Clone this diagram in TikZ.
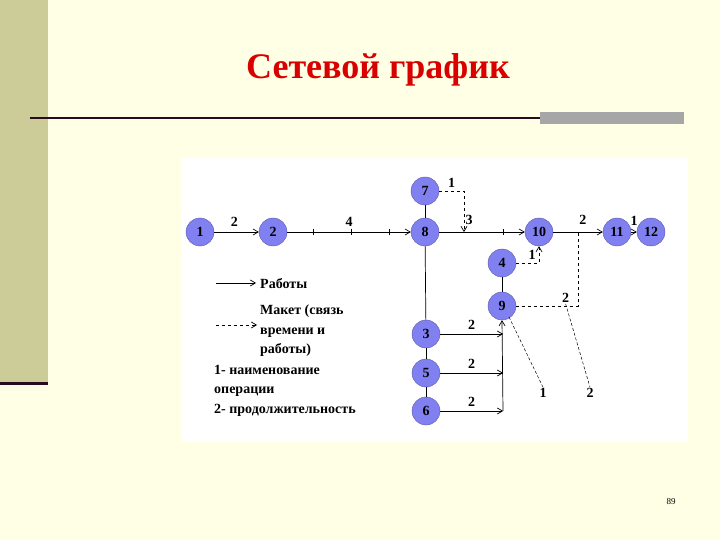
\documentclass[tikz,border=0pt]{standalone}
\usepackage{fontspec}
\setmainfont{Liberation Serif}
\usetikzlibrary{arrows.meta}
\definecolor{bg}{HTML}{FFFFE5}
\definecolor{bar}{HTML}{CCCC99}
\definecolor{dk}{HTML}{2A0A1E}
\definecolor{nd}{HTML}{8080F0}
\tikzset{
 ev/.style={circle,fill=nd,draw=nd!70!black,line width=0.4pt,minimum size=28pt,inner sep=0pt,font=\bfseries\fontsize{14}{14}\selectfont},
 wk/.style={line width=0.7pt,-{Straight Barb[length=5pt,width=6pt]}},
 dl/.style={wk,dashed},
 pl/.style={line width=0.7pt},
 lb/.style={font=\bfseries\fontsize{14}{14}\selectfont,inner sep=1pt},
 lg/.style={font=\bfseries\fontsize{14}{19.5}\selectfont,align=left,anchor=west,inner sep=0pt}
}
\begin{document}
\begin{tikzpicture}[x=1pt,y=-1pt]
\useasboundingbox (0,0) rectangle (720,540);
\fill[bg] (0,0) rectangle (720,540);
\fill[bar] (0,0) rectangle (48,382);
\fill[dk] (0,382) rectangle (48,385);
\fill[dk] (30,117) rectangle (540,119);
\fill[black!35] (540,112) rectangle (684,124);
\node[text=red!85!black,font=\bfseries\fontsize{36}{36}\selectfont] (title) at (378,70) {Сетевой график};
\node[font=\fontsize{9}{9}\selectfont] (pg) at (671,502) {89};
\fill[white] (181,158) rectangle (688,442);
\node[ev] (n1) at (200,232) {1};
\node[ev] (n2) at (273,232) {2};
\node[ev] (n8) at (425,232) {8};
\node[ev] (n7) at (425,191) {7};
\node[ev] (n10) at (539,232) {10};
\node[ev] (n11) at (617,232) {11};
\node[ev] (n12) at (651,232) {12};
\node[ev] (n4) at (502,263) {4};
\node[ev] (n9) at (502,306) {9};
\node[ev] (n3) at (426,334) {3};
\node[ev] (n5) at (426,373) {5};
\node[ev] (n6) at (426,411) {6};
% works
\draw[wk] (n1) -- node[lb,above=4pt,pos=0.45]{2} (n2);
\draw[wk] (n2) -- node[lb,above=4pt]{4} (n8);
\draw[wk] (n8) -- node[lb,above=6pt,pos=0.35]{3} (n10);
\draw[wk] (n10) -- node[lb,above=6pt,pos=0.6]{2} (n11);
\draw[wk] (n11) -- node[lb,above=5pt]{1} (n12);
\foreach \x in {313,351,389,503} \draw[pl] (\x,229) -- (\x,235);
\draw[pl] (n8) -- (n3);
\draw[pl] (n7) -- (n8);
\draw[pl] (n3) -- (n5);
\draw[pl] (n5) -- (n6);
\draw[pl] (n4) -- (n9);
\coordinate (a3) at (503,334);
\coordinate (a5) at (503,373);
\coordinate (a6) at (503,411);
\draw[wk] (n3) -- node[lb,above=3pt,pos=0.5]{2} (a3);
\draw[wk] (n5) -- node[lb,above=3pt,pos=0.5]{2} (a5);
\draw[wk] (n6) -- node[lb,above=3pt,pos=0.5]{2} (a6);
\draw[wk] (a6) -- (n9.south);
% dashed
\coordinate (d7) at (464,232);
\draw[dl] (n7.east) -| node[lb,above=2pt,pos=0.25]{1} (d7);
\draw[dl] (n4.east) -| node[lb,above=2pt,pos=0.35]{1} (n10.south);
\coordinate (d9) at (578,232);
\draw[pl,dashed] (n9.east) -| node[lb,above=2pt,pos=0.4](t2){2} (d9);
% callouts
\node[lb] (c1) at (543,393) {1};
\node[lb] (c2) at (590,393) {2};
\draw[pl,dash pattern=on 3pt off 2pt,line width=0.5pt] (509,317) -- (c1.north);
\draw[pl,dash pattern=on 3pt off 2pt,line width=0.5pt] (t2.south) -- (c2.north);
% legend
\coordinate (l1a) at (216,283); \coordinate (l1b) at (256,283);
\draw[wk] (l1a) -- (l1b);
\node[lg] (lw) at (260,284) {Работы};
\coordinate (l2a) at (216,325); \coordinate (l2b) at (257,325);
\draw[dl] (l2a) -- (l2b);
\node[lg,anchor=north west] (lm) at (260,305) {Макет (связь\\времени и\\работы)};
\node[lg,anchor=north west] (ln) at (214,365) {1- наименование\\операции\\2- продолжительность};
\end{tikzpicture}
\end{document}
